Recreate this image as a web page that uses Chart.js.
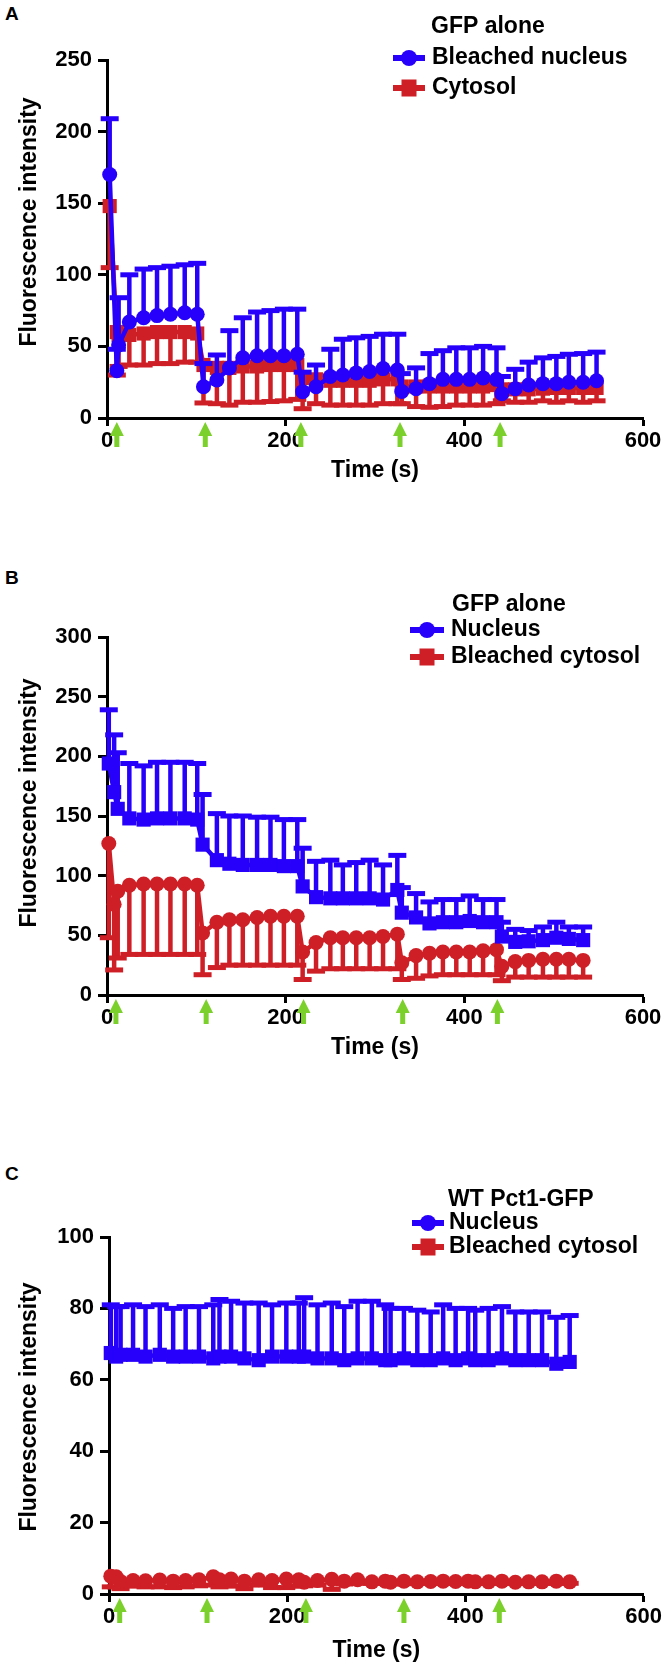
<!DOCTYPE html>
<html>
<head>
<meta charset="utf-8">
<title>FRAP fluorescence intensity</title>
<script src="https://cdn.jsdelivr.net/npm/chart.js@4.4.1/dist/chart.umd.min.js"></script>
<style>
  body { margin: 0; background: #fff; width: 664px; height: 1666px; position: relative; overflow: hidden;
         font-family: "Liberation Sans", Arial, sans-serif; }
  canvas { position: absolute; left: 0; }
  .panel-letter { position: absolute; left: 5px; font-weight: bold; font-size: 19px; line-height: 19px; color: #000; }
</style>
</head>
<body>
<div class="panel-letter" style="top:4px">A</div>
<div class="panel-letter" style="top:568px">B</div>
<div class="panel-letter" style="top:1164px">C</div>
<canvas id="chart-a" width="664" height="500" style="top:0px"></canvas>
<canvas id="chart-b" width="664" height="600" style="top:500px"></canvas>
<canvas id="chart-c" width="664" height="566" style="top:1100px"></canvas>
<script>
// --- Data (time in s, fluorescence intensity a.u.) ---

// Panel A: GFP alone, bleached nucleus
var TIME_A = [3, 11, 13, 25, 41, 56, 71, 87, 101, 108, 123, 137, 152, 168, 183, 198, 213,
  219, 234, 250, 264, 279, 294, 309, 325, 330, 346, 361, 376, 391, 406, 421, 436,
  442, 457, 472, 488, 503, 517, 533, 548];
var NUCLEUS_A = [170, 33, 51, 67, 70, 71.5, 72.5, 73.5, 72.5, 21.8, 26.5, 35, 42, 43.5, 43.5, 43.5, 44.5,
  18.4, 21.8, 29, 30, 31.5, 32.5, 34.5, 33.5, 18.5, 20.5, 24, 27, 27, 27, 28, 27,
  17, 20.5, 23, 24, 24, 25, 25, 26];
var NUCLEUS_A_UPPER = [209, 48, 84, 100, 104, 105, 106, 107, 108, 38, 44, 61, 70, 74, 75, 76, 76,
  32, 37, 48, 55, 56, 57, 58.5, 58.5, 31, 35, 45, 47, 49, 49, 50, 49,
  29, 34, 39, 42, 43, 44.5, 45, 46];
var CYTOSOL_A = [148, 60, 58, 58, 59, 60, 60, 60, 59, 37, 35, 35, 36, 36, 37, 37, 37,
  28, 27, 26, 26, 26, 26, 27, 27, 22, 22, 22, 22, 22, 22, 22, 23,
  20, 20, 20, 20.5, 21, 21, 21, 21];
var CYTOSOL_A_LOWER = [105, 30, 36, 37, 37, 38, 38, 39, 39, 10.5, 10, 9, 11, 11, 11.5, 12, 13,
  6.5, 10, 9, 9, 9, 9, 10, 10, 10, 8, 7.5, 8, 9, 9, 9, 10,
  12, 11, 11, 12, 11, 12, 11, 12];
var ARROWS_A = [11, 110, 217, 328, 440];

// Panel B: GFP alone, bleached cytosol
var TIME_B = [2, 8, 12, 25, 41, 56, 71, 87, 101, 107, 123, 137, 152, 168, 183, 198, 213,
  219, 234, 250, 264, 279, 294, 309, 325, 330, 346, 361, 376, 391, 406, 421, 436,
  442, 457, 472, 488, 503, 517, 533];
var NUCLEUS_B = [194, 170, 156, 148, 147, 148, 148, 148, 147, 126, 113, 110, 109, 109, 109, 108, 108,
  91, 82, 81, 81, 81, 81, 80, 88, 69, 65, 60, 61, 61, 62, 61, 61,
  49, 44.5, 45, 46, 48, 47, 46];
var NUCLEUS_B_UPPER = [239, 218, 203, 194, 192, 195, 195, 195, 194, 168, 152, 150, 150, 149, 149, 147, 147,
  123, 112, 113, 109, 111, 113, 109, 117, 90, 85, 78, 80, 80, 83, 80, 80,
  61, 55, 54, 57, 61, 57, 57];
var CYTOSOL_B = [127, 76, 87, 92, 93, 93, 93, 93, 92, 52, 61, 63, 63, 65, 66, 66, 66,
  36, 44, 48, 48, 48, 48, 49, 51, 27, 33, 35, 36, 36, 36, 37, 38,
  24, 28, 29, 30, 30, 30, 29];
var CYTOSOL_B_LOWER = [48, 21, 31, 34, 34, 34, 34, 34, 34, 17, 23, 25, 25, 25, 25, 25, 25,
  13, 20, 22, 22, 22, 22, 22, 22, 13, 14, 16, 17, 17, 17, 17, 17,
  12, 15, 15, 15, 15, 15, 15];
var ARROWS_B = [10, 111, 220, 331, 437];

// Panel C: WT Pct1-GFP, bleached cytosol
var TIME_C = [2, 8, 13, 27, 41, 57, 72, 86, 101, 117, 124, 137, 152, 168, 183, 199, 213,
  219, 234, 250, 264, 279, 295, 310, 316, 331, 346, 361, 375, 389, 403, 411,
  426, 441, 456, 471, 486, 502, 517];
var NUCLEUS_C = [67.5, 66.5, 67, 67, 66.5, 67, 66.5, 66.5, 66.5, 66, 66.5, 66.5, 66, 65.5, 66.5, 66.5, 66.5,
  66.5, 66, 66, 65.5, 66, 66, 65.5, 65.5, 66, 65.5, 65.5, 66, 65.5, 66, 65.5,
  65.5, 66, 65.5, 65.5, 65.5, 64.5, 65];
var NUCLEUS_C_UPPER = [81, 80.5, 80.5, 81, 80.5, 81, 80, 80.5, 80.5, 81, 82.5, 82, 81.5, 81.5, 81, 81.5, 81.5,
  83, 81, 81.5, 80.5, 82, 82, 81, 80, 80, 79.5, 79, 81, 80, 80, 79.5,
  80, 80.5, 79, 79, 79, 77.5, 78];
var CYTOSOL_C = [5, 4.8, 3.5, 3.8, 3.7, 3.9, 3.6, 3.8, 4, 4.8, 4, 4.2, 3.6, 4, 3.8, 4.2, 4,
  3.3, 3.8, 4.1, 3.6, 4, 3.4, 3.6, 3.3, 3.6, 3.4, 3.5, 3.6, 3.5, 3.6, 3.4,
  3.4, 3.6, 3.3, 3.4, 3.4, 3.6, 3.4];
var CYTOSOL_C_LOWER = [2, 2, 1.5, 2.2, 2, 2, 1.8, 2, 2.3, 2.5, 2, 2.2, 1.5, 2.5, 1.8, 1.8, 2.2,
  2.3, 2.5, 1.3, 2.8, 3, 3, 3, 2.8, 2.9, 3, 3, 3, 3, 3, 3,
  3, 3, 3, 3, 3, 3, 3];
var ARROWS_C = [12, 110, 221, 331, 438];

var X_TICKS = [0, 200, 400, 600];
var Y_TITLE = 'Fluorescence intensity';
var X_TITLE = 'Time (s)';

// --- Styling ---
var BLUE = '#2600fa';
var RED = '#cf1f26';
var GREEN = '#7cd02c';
var FONT = '"Liberation Sans", Arial, Helvetica, sans-serif';

Chart.defaults.font.family = FONT;
Chart.defaults.font.weight = 'bold';
Chart.defaults.color = '#000';

function toPoints(xs, ys) {
  return xs.map(function (x, i) { return { x: x, y: ys[i] }; });
}

// one-sided error bar, drawn just before its own dataset so markers sit on top
var errorBarPlugin = {
  id: 'errorBars',
  beforeDatasetDraw: function (chart, args) {
    var ds = chart.data.datasets[args.index];
    if (!ds.errorEnds) return;
    var yScale = chart.scales.y;
    var ctx = chart.ctx;
    ctx.save();
    ctx.strokeStyle = ds.borderColor;
    args.meta.data.forEach(function (pt, i) {
      var yEnd = yScale.getPixelForValue(ds.errorEnds[i]);
      ctx.lineWidth = 4.5;
      ctx.beginPath();
      ctx.moveTo(pt.x, pt.y);
      ctx.lineTo(pt.x, yEnd);
      ctx.stroke();
      ctx.lineWidth = 5;
      ctx.beginPath();
      ctx.moveTo(pt.x - 9, yEnd);
      ctx.lineTo(pt.x + 9, yEnd);
      ctx.stroke();
    });
    ctx.restore();
  }
};

// green arrows under the time axis marking each bleach
function arrowPlugin(times) {
  return {
    id: 'bleachArrows',
    afterDraw: function (chart) {
      var ctx = chart.ctx;
      var xScale = chart.scales.x;
      var top = chart.chartArea.bottom + 4;
      ctx.save();
      ctx.fillStyle = GREEN;
      times.forEach(function (t) {
        var px = xScale.getPixelForValue(t);
        ctx.beginPath();
        ctx.moveTo(px, top);
        ctx.lineTo(px + 7, top + 14);
        ctx.lineTo(px - 7, top + 14);
        ctx.closePath();
        ctx.fill();
        ctx.fillRect(px - 2.5, top + 13, 5, 12);
      });
      ctx.restore();
    }
  };
}

function legendPlugin(spec) {
  return {
    id: 'panelLegend',
    afterDraw: function (chart) {
      var ctx = chart.ctx;
      ctx.save();
      ctx.font = 'bold 23px ' + FONT;
      ctx.textAlign = 'left';
      ctx.textBaseline = 'middle';
      ctx.fillStyle = '#000';
      ctx.fillText(spec.title, spec.titleX, spec.titleY);
      chart.data.datasets.forEach(function (ds, i) {
        var y = spec.rowsY[i];
        var cx = (spec.markerX[0] + spec.markerX[1]) / 2;
        ctx.strokeStyle = ds.borderColor;
        ctx.lineWidth = 6;
        ctx.beginPath();
        ctx.moveTo(spec.markerX[0], y);
        ctx.lineTo(spec.markerX[1], y);
        ctx.stroke();
        ctx.fillStyle = ds.borderColor;
        if (ds.legendStyle === 'circle') {
          ctx.beginPath();
          ctx.arc(cx, y, 8, 0, Math.PI * 2);
          ctx.fill();
        } else {
          ctx.fillRect(cx - 7.5, y - 8.5, 15, 17);
        }
        ctx.fillStyle = '#000';
        ctx.fillText(ds.label, spec.textX, y);
      });
      ctx.restore();
    }
  };
}

function yTitlePlugin(spec) {
  return {
    id: 'yTitle',
    afterDraw: function (chart) {
      var ctx = chart.ctx;
      ctx.save();
      ctx.translate(spec.x, spec.y);
      ctx.rotate(-Math.PI / 2);
      ctx.font = 'bold 23px ' + FONT;
      ctx.textAlign = 'center';
      ctx.textBaseline = 'middle';
      ctx.fillStyle = '#000';
      ctx.fillText(Y_TITLE, 0, 0);
      ctx.restore();
    }
  };
}

function seriesDataset(label, time, values, ends, color, style, radius, legendStyle) {
  return {
    label: label,
    data: toPoints(time, values),
    errorEnds: ends,
    legendStyle: legendStyle,
    showLine: true,
    borderColor: color,
    backgroundColor: color,
    borderWidth: 4.5,
    tension: 0,
    pointStyle: style,
    pointRadius: radius,
    pointBorderWidth: 0,
    pointBackgroundColor: color,
    clip: false
  };
}

function makePanel(canvasId, p) {
  return new Chart(document.getElementById(canvasId), {
    type: 'scatter',
    data: { datasets: p.datasets },
    options: {
      responsive: false,
      animation: false,
      devicePixelRatio: 1,
      layout: { padding: { top: p.top, bottom: p.bottom, left: 0, right: p.right } },
      plugins: { legend: { display: false }, tooltip: { enabled: false } },
      scales: {
        x: {
          type: 'linear',
          min: X_TICKS[0],
          max: X_TICKS[X_TICKS.length - 1],
          afterBuildTicks: function (s) { s.ticks = X_TICKS.map(function (v) { return { value: v }; }); },
          ticks: { padding: 2, font: { size: 22, weight: 'bold' }, color: '#000' },
          grid: { drawOnChartArea: false, tickLength: 8, tickWidth: 3, tickColor: '#000' },
          border: { color: '#000', width: 3 },
          title: { display: true, text: X_TITLE, font: { size: 23, weight: 'bold' }, color: '#000', padding: 0 },
          afterFit: function (s) { s.height = p.xAxisHeight; }
        },
        y: {
          min: 0,
          max: p.yMax,
          ticks: { stepSize: p.yStep, padding: 6, font: { size: 22, weight: 'bold' }, color: '#000' },
          grid: { drawOnChartArea: false, tickLength: 9, tickWidth: 3, tickColor: '#000' },
          border: { color: '#000', width: 3 },
          afterFit: function (s) { s.width = p.left; }
        }
      }
    },
    plugins: [errorBarPlugin, arrowPlugin(p.arrows), legendPlugin(p.legend), yTitlePlugin(p.yTitle)]
  });
}

makePanel('chart-a', {
  top: 60, bottom: 16, left: 107, right: 21, xAxisHeight: 66,
  yMax: 250, yStep: 50, arrows: ARROWS_A,
  yTitle: { x: 30, y: 222 },
  legend: { title: 'GFP alone', titleX: 431, titleY: 27, rowsY: [58, 88], markerX: [393, 425], textX: 432 },
  datasets: [
    seriesDataset('Bleached nucleus', TIME_A, NUCLEUS_A, NUCLEUS_A_UPPER, BLUE, 'circle', 7.5, 'circle'),
    seriesDataset('Cytosol', TIME_A, CYTOSOL_A, CYTOSOL_A_LOWER, RED, 'rect', 10, 'rect')
  ]
});

// B and C plot blue squares / red circles, but their key shows blue circle / red square
makePanel('chart-b', {
  top: 137, bottom: 39, left: 107, right: 21, xAxisHeight: 66,
  yMax: 300, yStep: 50, arrows: ARROWS_B,
  yTitle: { x: 30, y: 303 },
  legend: { title: 'GFP alone', titleX: 452, titleY: 105, rowsY: [130, 157], markerX: [410, 444], textX: 451 },
  datasets: [
    seriesDataset('Nucleus', TIME_B, NUCLEUS_B, NUCLEUS_B_UPPER, BLUE, 'rect', 10, 'circle'),
    seriesDataset('Bleached cytosol', TIME_B, CYTOSOL_B, CYTOSOL_B_LOWER, RED, 'circle', 7.5, 'rect')
  ]
});

makePanel('chart-c', {
  top: 137, bottom: 2, left: 109, right: 19, xAxisHeight: 70,
  yMax: 100, yStep: 20, arrows: ARROWS_C,
  yTitle: { x: 30, y: 307 },
  legend: { title: 'WT Pct1-GFP', titleX: 448, titleY: 100, rowsY: [123, 147], markerX: [412, 444], textX: 449 },
  datasets: [
    seriesDataset('Nucleus', TIME_C, NUCLEUS_C, NUCLEUS_C_UPPER, BLUE, 'rect', 10, 'circle'),
    seriesDataset('Bleached cytosol', TIME_C, CYTOSOL_C, CYTOSOL_C_LOWER, RED, 'circle', 7.5, 'rect')
  ]
});
</script>
</body>
</html>
